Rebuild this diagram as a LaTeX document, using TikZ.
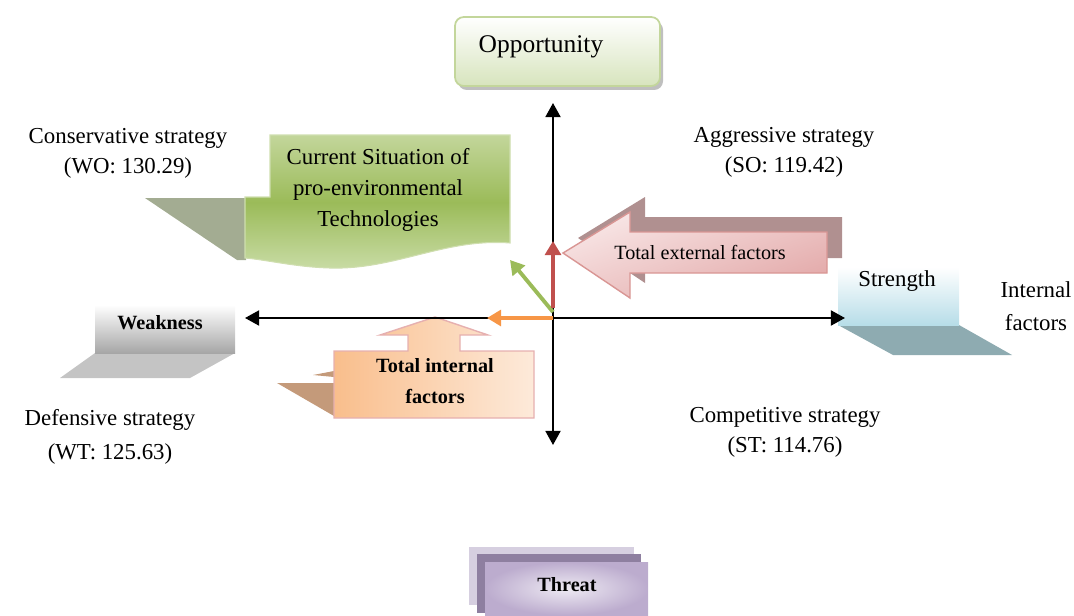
\documentclass[tikz,border=0pt]{standalone}
\usepackage{fontspec}
\setmainfont{Liberation Serif}
\usetikzlibrary{arrows.meta,shadings}
\definecolor{oppB}{HTML}{C3D69B}
\definecolor{oppF}{HTML}{D7E4BD}
\definecolor{grT}{HTML}{C3D69B}
\definecolor{grM}{HTML}{9BBB59}
\definecolor{grB}{HTML}{C9DCA6}
\definecolor{grS}{HTML}{A3AC92}
\definecolor{redA}{HTML}{C0504D}
\definecolor{grnA}{HTML}{9BBB59}
\definecolor{orA}{HTML}{F79646}
\definecolor{pkL}{HTML}{F8E6E6}
\definecolor{pkD}{HTML}{E3A9A9}
\definecolor{pkB}{HTML}{D99694}
\definecolor{pkS}{HTML}{B09090}
\definecolor{blF}{HTML}{B7DDE8}
\definecolor{blS}{HTML}{8EABB1}
\definecolor{gyF}{HTML}{A6A6A6}
\definecolor{gyS}{HTML}{C4C4C4}
\definecolor{peL}{HTML}{FDEADA}
\definecolor{peD}{HTML}{F9BE8C}
\definecolor{peB}{HTML}{E6B0B0}
\definecolor{peS}{HTML}{C49A7A}
\definecolor{thBk}{HTML}{D6CFE0}
\definecolor{thMd}{HTML}{8E7FA0}
\definecolor{thL}{HTML}{EEEAF3}
\definecolor{thD}{HTML}{BCACCE}
\begin{document}
\begin{tikzpicture}[x=0.02cm,y=-0.02cm,
  lbl/.style={font=\fontsize{13}{17}\selectfont, align=center, inner sep=0pt},
  smallbold/.style={font=\fontsize{11.5}{14}\selectfont\bfseries, align=center, inner sep=0pt},
  axis/.style={line width=1.2pt, {Triangle[length=8pt,width=8.5pt]}-{Triangle[length=8pt,width=8.5pt]}},
  vec/.style={line width=2.2pt, -{Triangle[length=8pt,width=9pt]}},
]
\useasboundingbox (0,0) rectangle (1074,615);

% Opportunity box
\fill[black!25, rounded corners=5pt] (458,21) rectangle (663,90);
\draw[oppB, line width=1pt, rounded corners=5pt, top color=white, bottom color=oppF] (455,17) rectangle (660,86);
\node[font=\fontsize{14.5}{17}\selectfont, inner sep=0pt] (opp) at (541,47) {Opportunity};

% strategy labels
\node[lbl] (cons) at (128,153) {Conservative strategy\\(WO: 130.29)};
\node[lbl] (aggr) at (784,152) {Aggressive strategy\\(SO: 119.42)};
\node[lbl, font=\fontsize{13}{19}\selectfont] (def) at (110,437) {Defensive strategy\\(WT: 125.63)};
\node[lbl] (comp) at (785,432) {Competitive strategy\\(ST: 114.76)};
\node[lbl, font=\fontsize{13}{19}\selectfont] (intf) at (1036,306) {Internal\\factors};

% green current situation shape
\fill[grS] (145,198) -- (246,198) -- (246,260) -- (237,260) -- cycle;
\draw[grT!80!white, line width=0.6pt, top color=grT, bottom color=grB, middle color=grM]
  (270,135) -- (510,135) -- (510,243)
  .. controls (445,238) and (395,270) .. (330,268)
  .. controls (295,267) and (268,260) .. (245,258)
  -- (245,197) -- (270,197) -- cycle;
\node[lbl, font=\fontsize{13}{17.5}\selectfont] (cur) at (378,190) {Current Situation of\\pro-environmental\\Technologies};

% Total external factors arrow
\fill[pkS] (578,238) -- (645,197) -- (645,217) -- (842,217) -- (842,258) -- (645,258) -- (645,283) -- cycle;
\draw[pkB, line width=0.8pt, top color=pkL, bottom color=pkD, shading angle=20]
  (563,253) -- (630,212) -- (630,232) -- (827,232) -- (827,273) -- (630,273) -- (630,298) -- cycle;
\node[font=\fontsize{11.5}{14}\selectfont, inner sep=0pt] (ext) at (700,252) {Total external factors};

% Strength
\fill[blS] (838,325) -- (959,325) -- (1012,355) -- (893,355) -- cycle;
\fill[top color=white, bottom color=blF] (838,267) rectangle (959,325);
\node[lbl] (str) at (897,281) {Strength};

% Weakness
\fill[gyS] (95,353) -- (235,353) -- (190,378) -- (60,378) -- cycle;
\fill[top color=white, bottom color=gyF] (95,305) rectangle (235,353);
\node[smallbold] (weak) at (160,323) {Weakness};

% Total internal factors callout
\fill[peS] (277,383) -- (334,383) -- (334,416) -- cycle;
\fill[peS] (313,375) -- (334,371) -- (334,377) -- cycle;
\draw[peB, line width=0.8pt, left color=peD, right color=peL]
  (334,351) -- (408,351) -- (408,335) -- (380,335) -- (435,317) -- (488,335) -- (460,335) -- (460,351)
  -- (534,351) -- (534,418) -- (334,418) -- cycle;
\node[smallbold, font=\fontsize{11.5}{18}\selectfont\bfseries] (intt) at (435,381) {Total internal\\factors};

% Threat
\fill[thBk] (469,547) rectangle (634,605);
\fill[thMd] (477,554) rectangle (641,613);
\fill[inner color=thL, outer color=thD] (485,562) rectangle (648,615);
\node[smallbold] (thr) at (567,585) {Threat};

% axes
\coordinate (o) at (553,318);
\coordinate (axT) at (553,103);
\coordinate (axB) at (553,445);
\coordinate (axL) at (245,318);
\coordinate (axR) at (845,318);
\draw[axis] (axL) -- (axR);
\draw[axis] (axT) -- (axB);

% resultant vectors
\coordinate (rs) at (553,308);
\coordinate (re) at (553,241);
\coordinate (gs) at (553,312);
\coordinate (ge) at (510,260);
\coordinate (oe) at (487,318);
\draw[vec, orA] (o) -- (oe);
\draw[vec, grnA] (gs) -- (ge);
\draw[vec, redA] (rs) -- (re);
\end{tikzpicture}
\end{document}
